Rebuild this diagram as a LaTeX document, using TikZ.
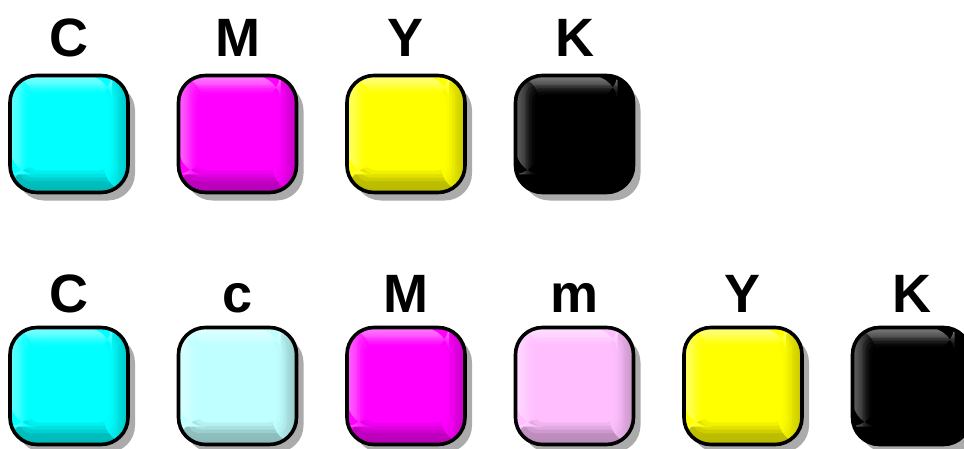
\documentclass[tikz,border=0pt]{standalone}
\usepackage{fontspec}
\setmainfont{Liberation Sans}
\usetikzlibrary{shadows}
\definecolor{inkC}{RGB}{0,255,255}
\definecolor{inkM}{RGB}{255,0,255}
\definecolor{inkY}{RGB}{255,255,0}
\definecolor{inkK}{RGB}{0,0,0}
\definecolor{inkc}{RGB}{191,255,255}
\definecolor{inkm}{RGB}{255,191,255}
\newcommand{\inkface}[3]{%
  \fill[#1, opacity=#3, rounded corners=10pt]
    ([xshift=#2pt,yshift=1.15*#2pt]path picture bounding box.south west) rectangle
    ([xshift=-#2pt,yshift=-#2pt]path picture bounding box.north east);}
\tikzset{
  inkbox/.style={draw=black, line width=3.6pt, rounded corners=27pt,
    minimum width=118pt, minimum height=117pt, inner sep=0pt, fill=#1,
    drop shadow={shadow xshift=7pt, shadow yshift=-8pt, fill=black, opacity=0.33},
    path picture={
      \shade[bottom color=#1!72!black, top color=#1]
        (path picture bounding box.south west) rectangle ([yshift=26pt]path picture bounding box.south east);
      \shade[right color=#1!78!black, left color=#1]
        ([xshift=-24pt]path picture bounding box.south east) rectangle (path picture bounding box.north east);
      \shade[top color=#1!50!white, bottom color=#1]
        ([yshift=-24pt]path picture bounding box.north west) rectangle ([xshift=-16pt]path picture bounding box.north east);
      \shade[left color=#1!62!white, right color=#1]
        ([yshift=18pt]path picture bounding box.south west) rectangle ([xshift=24pt]path picture bounding box.north west);
      \inkface{#1}{10}{0.25}
      \inkface{#1}{13}{0.35}
      \inkface{#1}{16}{0.5}
      \inkface{#1}{19}{1}
    }},
  inklabel/.style={anchor=base, inner sep=0pt, font=\fontsize{54}{60}\selectfont\bfseries}
}
\begin{document}
\begin{tikzpicture}[x=1pt,y=1pt]
\useasboundingbox (0,0) rectangle (964,448);
% top row
\node[inkbox=inkC] (tC) at (69,314) {};
\node[inkbox=inkM] (tM) at (237.5,314) {};
\node[inkbox=inkY] (tY) at (406,314) {};
\node[inkbox=inkK] (tK) at (574.5,314) {};
\node[inklabel] (ltC) at (69,391) {C};
\node[inklabel] (ltM) at (237.5,391) {M};
\node[inklabel] (ltY) at (406,391) {Y};
\node[inklabel] (ltK) at (574.5,391) {K};
% bottom row
\node[inkbox=inkC] (bC) at (69,62) {};
\node[inkbox=inkc] (bc) at (237.5,62) {};
\node[inkbox=inkM] (bM) at (406,62) {};
\node[inkbox=inkm] (bm) at (574.5,62) {};
\node[inkbox=inkY] (bY) at (743,62) {};
\node[inkbox=inkK] (bK) at (911.5,62) {};
\node[inklabel] (lbC) at (69,136) {C};
\node[inklabel] (lbc) at (237.5,136) {c};
\node[inklabel] (lbM) at (406,136) {M};
\node[inklabel] (lbm) at (574.5,136) {m};
\node[inklabel] (lbY) at (743,136) {Y};
\node[inklabel] (lbK) at (911.5,136) {K};
\end{tikzpicture}
\end{document}
